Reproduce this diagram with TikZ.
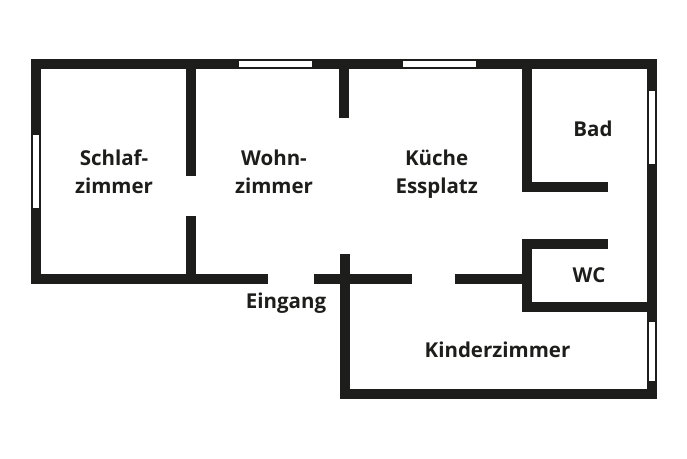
\documentclass[tikz,border=0pt]{standalone}
\usepackage{fontspec}
\setmainfont{Open Sans}
\definecolor{wallc}{HTML}{1D1D1B}
\tikzset{
  wall/.style={fill=wallc,draw=none},
  pane/.style={fill=white,draw=none},
  room/.style={text=wallc,anchor=base,inner sep=0pt,font=\fontsize{20.5}{24}\selectfont\bfseries}
}
\begin{document}
\begin{tikzpicture}[x=1pt,y=-1pt]
\useasboundingbox (0,0) rectangle (687,458);
\fill[white] (0,0) rectangle (687,458);
% outer walls
\fill[wall] (31,59) rectangle (657,69);
\fill[wall] (31,59) rectangle (41,284.3);
\fill[wall] (31,274.3) rectangle (268.3,284.3);
\fill[wall] (647,59) rectangle (657,398.7);
\fill[wall] (340,388.7) rectangle (657,398.7);
\fill[wall] (340,254.3) rectangle (350,398.7);
% inner walls
\fill[wall] (186.3,69) rectangle (196.3,176);
\fill[wall] (186.3,216.3) rectangle (196.3,274.3);
\fill[wall] (339.3,69) rectangle (349.3,118);
\fill[wall] (522.3,69) rectangle (532.3,191.7);
\fill[wall] (522.3,181.7) rectangle (608.3,191.7);
\fill[wall] (522.3,239) rectangle (608.3,249);
\fill[wall] (522.3,239) rectangle (532.3,311.7);
\fill[wall] (522.3,301.7) rectangle (647,311.7);
\fill[wall] (314,273.7) rectangle (411.7,283.7);
\fill[wall] (455,273.7) rectangle (522.3,283.7);
% windows
\fill[pane] (239,60.7) rectangle (312.3,66.7);
\fill[pane] (403,60.7) rectangle (476.3,66.7);
\fill[pane] (33,134.7) rectangle (39.3,208);
\fill[pane] (648.7,90.7) rectangle (655,164);
\fill[pane] (648.7,321.7) rectangle (655,380.7);
% labels
\node[room] (schlaf) at (114,165) {Schlaf-};
\node[room] (schlafz) at (114,193) {zimmer};
\node[room] (wohn) at (274,165) {Wohn-};
\node[room] (wohnz) at (274,193) {zimmer};
\node[room] (kueche) at (436.7,165) {Küche};
\node[room] (ess) at (436.7,193) {Essplatz};
\node[room] (bad) at (593,136.7) {Bad};
\node[room] (wc) at (589,282.7) {WC};
\node[room] (kinder) at (497.5,357) {Kinderzimmer};
\node[room] (eingang) at (286,308) {Eingang};
\end{tikzpicture}
\end{document}
